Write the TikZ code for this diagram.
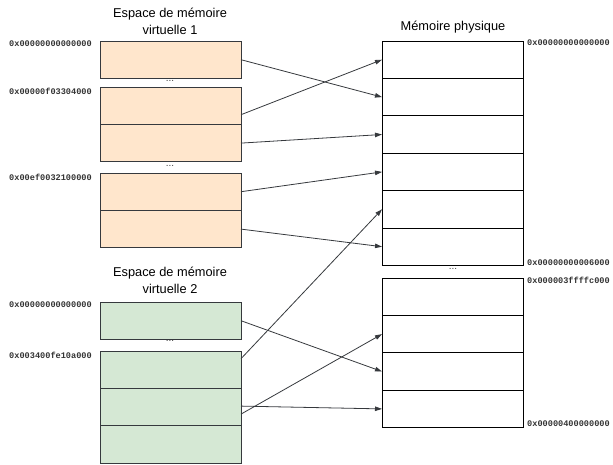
\documentclass[tikz,border=0pt]{standalone}
\usepackage{fontspec}
\setmainfont{Liberation Sans}
\newfontfamily\addrfont{Liberation Mono}
\usepackage{tikz}
\usetikzlibrary{arrows.meta,positioning}
\definecolor{virtorange}{HTML}{FFE6CC}
\definecolor{virtgreen}{HTML}{D5E8D4}
\definecolor{edgegray}{HTML}{36393D}
\tikzset{
  cell/.style={draw=edgegray, line width=0.9pt, rectangle, minimum width=141pt, minimum height=37.4pt, inner sep=0pt, outer sep=0pt},
  vcell/.style={cell, fill=virtorange},
  gcell/.style={cell, fill=virtgreen},
  pcell/.style={cell, draw=black, fill=white},
  addr/.style={font=\addrfont\bfseries\fontsize{8.6}{9}\selectfont, text=black!80, inner sep=0pt},
  ttl/.style={font=\fontsize{12.8}{17}\selectfont, align=center, inner sep=0pt},
  gap/.style={font=\fontsize{10}{10}\selectfont, text=black!75, inner sep=0pt},
  map/.style={->, >={Triangle[length=7pt,width=4.5pt]}, draw=edgegray, line width=0.8pt}
}

\begin{document}
\begin{tikzpicture}[x=1pt, y=-1pt]
\useasboundingbox (0,0) rectangle (613,464);
% espace virtuel 1
\node[ttl] (t1) at (170,21.5) {Espace de mémoire\\virtuelle 1};
\node[vcell, anchor=north west] (v1) at (100,41) {};
\node[vcell, anchor=north west] (v2) at (100,87) {};
\node[vcell, below=0pt of v2] (v3) {};
\node[vcell, anchor=north west] (v4) at (100,173) {};
\node[vcell, below=0pt of v4] (v5) {};
\node[gap] (d1) at (170,81) {...};
\node[gap] (d2) at (170,166) {...};
\node[addr, anchor=east] (a1) at ([xshift=-8pt,yshift=-3pt]v1.north west) {0x00000000000000};
\node[addr, anchor=east] (a2) at ([xshift=-8pt,yshift=-4pt]v2.north west) {0x00000f03304000};
\node[addr, anchor=east] (a3) at ([xshift=-8pt,yshift=-4pt]v4.north west) {0x00ef0032100000};
% espace virtuel 2
\node[ttl] (t2) at (170,280.5) {Espace de mémoire\\virtuelle 2};
\node[gcell, anchor=north west] (g1) at (100,302) {};
\node[gcell, anchor=north west] (g2) at (100,351) {};
\node[gcell, below=0pt of g2] (g3) {};
\node[gcell, below=0pt of g3] (g4) {};
\node[gap] (d3) at (170,341) {...};
\node[addr, anchor=east] (a4) at ([xshift=-8pt,yshift=-3pt]g1.north west) {0x00000000000000};
\node[addr, anchor=east] (a5) at ([xshift=-8pt,yshift=-4pt]g2.north west) {0x003400fe10a000};
% memoire physique
\node[ttl] (t3) at (453,27) {Mémoire physique};
\node[pcell, anchor=north west] (p1) at (382,41) {};
\node[pcell, below=0pt of p1] (p2) {};
\node[pcell, below=0pt of p2] (p3) {};
\node[pcell, below=0pt of p3] (p4) {};
\node[pcell, below=0pt of p4] (p5) {};
\node[pcell, below=0pt of p5] (p6) {};
\node[gap] (d4) at (453,269) {...};
\node[pcell, anchor=north west] (q1) at (382,278) {};
\node[pcell, below=0pt of q1] (q2) {};
\node[pcell, below=0pt of q2] (q3) {};
\node[pcell, below=0pt of q3] (q4) {};
\node[addr, anchor=west] (b1) at ([xshift=4pt,yshift=-1.5pt]p1.north east) {0x00000000000000};
\node[addr, anchor=west] (b2) at ([xshift=4pt,yshift=3pt]p6.south east) {0x00000000006000};
\node[addr, anchor=west] (b3) at ([xshift=4pt,yshift=-2pt]q1.north east) {0x000003ffffc000};
\node[addr, anchor=west] (b4) at ([xshift=4pt,yshift=4pt]q4.south east) {0x00000400000000};
% correspondances
\draw[map] (v1.east) -- (p2.west);
\draw[map] ([yshift=-9pt]v2.east) -- (p1.west);
\draw[map] (v3.east) -- (p3.west);
\draw[map] (v4.east) -- (p4.west);
\draw[map] (v5.east) -- (p6.west);
\draw[map] ([yshift=11pt]g2.east) -- (p5.west);
\draw[map] (g1.east) -- (q3.west);
\draw[map] ([yshift=-7pt]g3.east) -- (q2.west);
\draw[map] ([yshift=1pt]g3.east) -- (q4.west);
\end{tikzpicture}
\end{document}
